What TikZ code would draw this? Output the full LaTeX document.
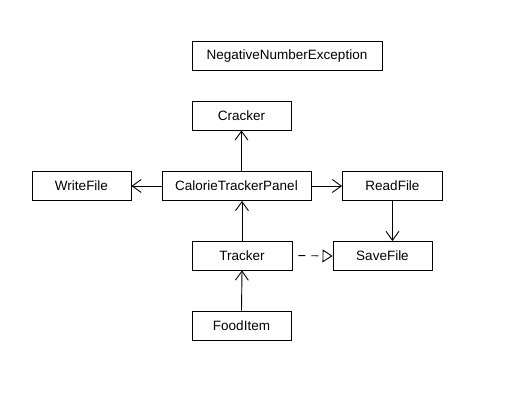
\documentclass[tikz,border=0pt]{standalone}
\usepackage{fontspec}
\setmainfont{Liberation Sans}
\usetikzlibrary{arrows.meta}
\begin{document}
\begin{tikzpicture}[x=1pt,y=-1pt,
  cls/.style={draw,line width=0.9pt,minimum height=29pt,inner sep=0pt,font=\fontsize{13.5}{16}\selectfont},
  nav/.style={line width=0.9pt,-{Straight Barb[length=9pt,width=13pt,line width=0.9pt]}},
  real/.style={line width=0.9pt,dash pattern=on 7pt off 6pt,-{Triangle[open,length=10pt,width=13pt,line width=0.9pt]}}]
\useasboundingbox (0,0) rectangle (515,417);
\node[cls,minimum width=190pt] (nne) at (287,56) {NegativeNumberException};
\node[cls,minimum width=99pt] (cracker) at (241.5,115.5) {Cracker};
\node[cls,minimum width=149pt] (ctp) at (236.5,186) {CalorieTrackerPanel};
\node[cls,minimum width=99pt] (write) at (81.5,186) {WriteFile};
\node[cls,minimum width=100pt] (read) at (392.5,186) {ReadFile};
\node[cls,minimum width=100pt] (tracker) at (242,255.5) {Tracker};
\node[cls,minimum width=99pt] (save) at (382.5,256) {SaveFile};
\node[cls,minimum width=99pt] (food) at (241.5,325.5) {FoodItem};
\draw[nav] (cracker.south |- ctp.north) -- (cracker.south);
\draw[nav] (ctp.west) -- (write.east);
\draw[nav] (ctp.east) -- (read.west);
\draw[nav] (tracker.north) -- (tracker.north |- ctp.south);
\draw[nav] (food.north) -- (tracker.south);
\draw[nav] (read.south) -- (read.south |- save.north);
\draw[real,shorten <=6pt] (tracker.east) -- (save.west);
\end{tikzpicture}
\end{document}
